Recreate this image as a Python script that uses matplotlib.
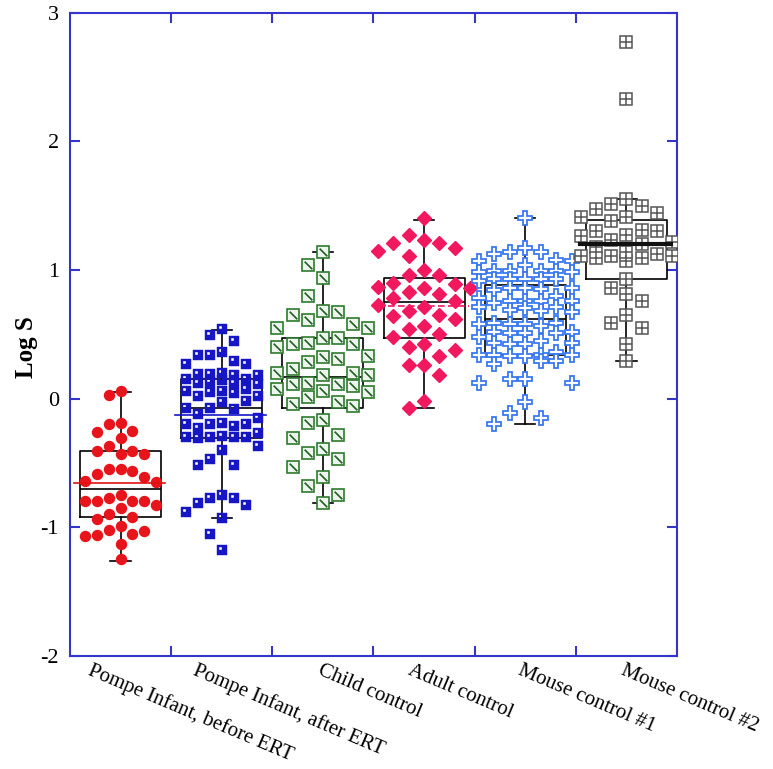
import numpy as np
import matplotlib
matplotlib.use("Agg")
import matplotlib.pyplot as plt
from matplotlib.path import Path
from matplotlib.transforms import blended_transform_factory

plt.rcParams['axes.unicode_minus'] = False
plt.rcParams['font.family'] = ['Liberation Serif', 'DejaVu Serif']

# ---------------- data ----------------
categories = ["Pompe Infant, before ERT", "Pompe Infant, after ERT", "Child control",
              "Adult control", "Mouse control #1", "Mouse control #2"]

pompe_before = [0.06, 0.03, -0.19, -0.20, -0.25, -0.26, -0.31, -0.37, -0.41, -0.43, -0.43, -0.41,
                -0.55, -0.56, -0.61, -0.65, -0.64, -0.59, -0.55, -0.75, -0.80, -0.85, -0.80, -0.80,
                -0.80, -0.77, -0.83, -0.92, -0.94, -0.90, -1.02, -1.06, -1.07, -1.05, -1.03, -0.99,
                -1.13, -1.25]
pompe_after = [0.54, 0.49, 0.45, 0.36, 0.34, 0.34, 0.29, 0.27, 0.27,
               0.19, 0.18, 0.18, 0.19, 0.20, 0.15, 0.13, 0.11, 0.15, 0.12, 0.12, 0.14,
               0.06, 0.05, 0.02, 0.06, 0.07, 0.02, 0.04,
               -0.07, -0.08, -0.03, -0.02, -0.07, -0.12, -0.15,
               -0.19, -0.20, -0.23, -0.21, -0.20, -0.20,
               -0.29, -0.30, -0.31, -0.27, -0.30, -0.30, -0.30,
               -0.40, -0.37, -0.47, -0.52, -0.52,
               -0.81, -0.75, -0.77, -0.77, -0.83, -0.88, -0.93, -1.05, -1.18]
child_control = [1.14, 1.04, 0.94, 0.80, 0.67, 0.61, 0.55, 0.68, 0.55, 0.58, 0.65,
                 0.47, 0.43, 0.40, 0.42, 0.42, 0.47, 0.33, 0.31, 0.23, 0.28, 0.32,
                 0.20, 0.18, 0.12, 0.18, 0.20, 0.10, 0.06, 0.11, 0.05, 0.07, 0.11,
                 -0.03, -0.06, 0.01, -0.04, -0.19, -0.17, -0.28, -0.31,
                 -0.39, -0.42, -0.47, -0.53, -0.61, -0.68, -0.75, -0.81]
adult_control = [1.40, 1.27, 1.23, 1.21, 1.15, 1.17, 1.21, 1.11, 1.00, 0.96, 0.96,
                 0.90, 0.87, 0.86, 0.89, 0.83, 0.81, 0.86, 0.78, 0.76, 0.68, 0.71, 0.73,
                 0.64, 0.62, 0.65, 0.56, 0.54, 0.48, 0.50, 0.40, 0.38, 0.42,
                 0.26, 0.26, 0.33, 0.18, -0.02, -0.07]
mouse_control_1 = [1.40, 1.17, 1.14, 1.14, 1.12, 1.08, 1.07, 1.04, 1.07,
                   0.99, 0.98, 0.99, 0.98, 0.99, 0.99, 0.93, 0.91, 0.93, 0.93, 0.93, 0.93,
                   0.86, 0.84, 0.85, 0.86, 0.86, 0.80, 0.74, 0.78, 0.76, 0.76, 0.76, 0.76,
                   0.71, 0.68, 0.69, 0.70, 0.71, 0.56, 0.59, 0.59, 0.58, 0.58, 0.58, 0.67,
                   0.52, 0.51, 0.51, 0.51, 0.52, 0.48, 0.42, 0.45, 0.43, 0.42, 0.43,
                   0.36, 0.33, 0.34, 0.34, 0.34, 0.34, 0.33, 0.27, 0.29, 0.29,
                   0.15, 0.12, 0.12, 0.15, -0.03, -0.15, -0.11, -0.20]
mouse_control_2 = [2.77, 2.33, 1.55, 1.51, 1.50, 1.47, 1.44, 1.41, 1.41, 1.38,
                   1.31, 1.30, 1.30, 1.27, 1.26, 1.23, 1.20, 1.18, 1.22,
                   1.11, 1.11, 1.09, 1.12, 1.07, 1.09, 1.11, 1.14,
                   0.93, 0.86, 0.81, 0.76, 0.65, 0.59, 0.55, 0.42, 0.29]

# box statistics
box_q1 = [-0.92, -0.31, -0.07, 0.47, 0.34, 0.93]
box_med = [-0.70, -0.075, 0.17, 0.75, 0.62, 1.20]
box_q3 = [-0.41, 0.15, 0.47, 0.94, 0.88, 1.39]
whisk_lo = [-1.26, -0.93, -0.81, -0.07, -0.20, 0.29]
whisk_hi = [0.05, 0.53, 1.14, 1.39, 1.40, 1.55]
mean_vals = [-0.66, -0.13, None, 0.72, None, 1.20]

yticks = [-2, -1, 0, 1, 2, 3]
ytick_labels = ["-2", "-1", "0", "1", "2", "3"]

groups = [pompe_before, pompe_after, child_control, adult_control, mouse_control_1, mouse_control_2]

# ---------------- styles / layout ----------------
spine_color = '#3535cc'
col_spacing = [0.116, 0.119, 0.150, 0.152, 0.153, 0.150]
min_gap = [0.12, 0.14, 0.16, 0.14, 0.18, 0.12]
label_shift = [-0.27, -0.24, 0.0, -0.11, -0.03, -0.01]
mean_styles = [dict(color='#e01010', lw=1.2, ls='-'),
               dict(color='#1515c8', lw=1.2, ls='-'),
               None,
               dict(color='#f2185f', lw=1.2, ls=(0, (4, 2))),
               None,
               dict(color='#111111', lw=3.0, ls='-')]


def swarm_offsets(vals, spacing, gap, ncol=3):
    vals = np.asarray(vals, dtype=float)
    order = np.argsort(-vals)
    cols = [0]
    for k in range(1, ncol + 1):
        cols += [-k, k]
    placed = {c: [] for c in cols}
    off = np.zeros(len(vals))
    for i in order:
        v = vals[i]
        best, best_d = None, -1
        for c in cols:
            d = min([abs(v - p) for p in placed[c]], default=np.inf)
            if d >= gap:
                best = c
                break
            if d > best_d + 1e-9:
                best, best_d = c, d
        placed[best].append(v)
        off[i] = best * spacing
    return off


# custom marker paths
blue_sq = Path([(-1, -1), (1, -1), (1, 1), (-1, 1), (-1, -1),
                (-0.6, 0.05), (-0.6, 0.6), (-0.05, 0.6), (-0.05, 0.05), (-0.6, 0.05)],
               [Path.MOVETO, Path.LINETO, Path.LINETO, Path.LINETO, Path.CLOSEPOLY,
                Path.MOVETO, Path.LINETO, Path.LINETO, Path.LINETO, Path.CLOSEPOLY])
diag = Path([(1, 1), (-0.65, 0.65), (0.65, -0.65)],
            [Path.MOVETO, Path.MOVETO, Path.LINETO])

fig = plt.figure(figsize=(7.73, 7.69), dpi=100)
ax = fig.add_axes([70 / 773, 1 - 655.7 / 769, (677 - 70) / 773, (655.7 - 12.7) / 769])

# boxes
stats = []
for i in range(6):
    stats.append(dict(med=box_med[i], q1=box_q1[i], q3=box_q3[i],
                      whislo=whisk_lo[i], whishi=whisk_hi[i], fliers=[]))
ax.bxp(stats, positions=range(6), widths=0.8, capwidths=0.2, showfliers=False,
       boxprops=dict(color='black', lw=1.2),
       whiskerprops=dict(color='black', lw=1.2),
       capprops=dict(color='black', lw=1.2),
       medianprops=dict(color='black', lw=1.2), zorder=2)

# points
for i, vals in enumerate(groups):
    x = i + swarm_offsets(vals, col_spacing[i], min_gap[i])
    y = np.asarray(vals)
    if i == 0:
        ax.plot(x, y, 'o', ms=7.2, color='#e8141b', mec='#e8141b', ls='none', zorder=3)
    elif i == 1:
        ax.plot(x, y, marker=blue_sq, ms=7.0, color='#1616c4', mec='#1616c4', mew=0.3,
                ls='none', zorder=3)
    elif i == 2:
        ax.plot(x, y, 's', ms=8.5, mfc='#eef5ee', mec='#2d7a2d', mew=1.2, ls='none', zorder=3)
        ax.plot(x, y, marker=diag, ms=8.5, mec='#1f5f1f', mew=1.2, ls='none', zorder=3)
    elif i == 3:
        ax.plot(x, y, 'D', ms=7.5, color='#f2185f', mec='#f2185f', ls='none', zorder=3)
    elif i == 4:
        ax.plot(x, y, 'P', ms=9.5, mfc='white', mec='#3a78f0', mew=1.3, ls='none', zorder=3)
    else:
        ax.plot(x, y, 's', ms=8.5, mfc='white', mec='#555555', mew=1.1, ls='none', zorder=3)
        ax.plot(x, y, '+', ms=8.5, mec='#555555', mew=1.1, ls='none', zorder=3)

# mean lines
for i in range(6):
    if mean_vals[i] is not None:
        st = mean_styles[i]
        ax.plot([i - 0.46, i + 0.44], [mean_vals[i], mean_vals[i]], color=st['color'],
                lw=st['lw'], ls=st['ls'], zorder=4)

ax.set_xlim(-0.5, 5.5)
ax.set_ylim(-2, 3)
ax.set_yticks(yticks)
ax.set_yticklabels(ytick_labels, fontsize=16)
ax.set_xticks(np.arange(0.5, 5.5, 1.0))
ax.set_xticklabels([])
ax.tick_params(direction='in', length=7, width=1.5, color=spine_color, top=True, right=True,
               pad=8)
for s in ax.spines.values():
    s.set_color(spine_color)
    s.set_linewidth(1.5)

ax.set_ylabel("Log S", fontsize=18, fontweight='bold')
ax.yaxis.set_label_coords(-0.053, 0.48)

trans = blended_transform_factory(ax.transData, ax.transAxes)
for i, lab in enumerate(categories):
    ax.text(i + label_shift[i], -0.008, lab, transform=trans, rotation=-23,
            rotation_mode='anchor', ha='left', va='top', fontsize=15, clip_on=False)

fig.savefig("out.png", dpi=100)
